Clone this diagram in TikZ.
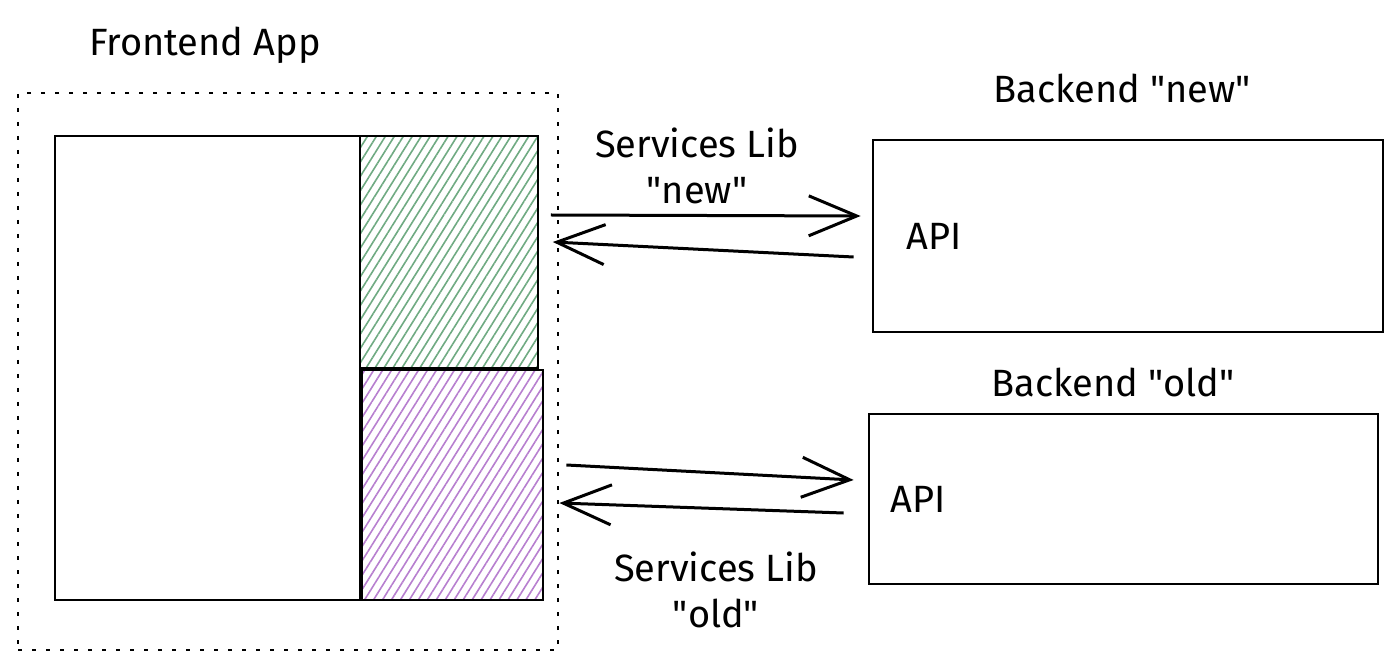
\documentclass[tikz,border=0pt]{standalone}
\usepackage{fontspec}
\setmainfont{Fira Sans}
\usepackage{xcolor}
\usetikzlibrary{arrows.meta,positioning,calc,fit,patterns.meta}
\definecolor{hatchgreen}{HTML}{6FAA82}
\definecolor{hatchpurple}{HTML}{B77FCF}
\newcommand{\qt}[1]{\textquotedbl#1\textquotedbl}
\tikzset{
  box/.style={draw, line width=1.4pt, inner sep=0pt, fill=white},
  frame/.style={draw, line width=1.3pt, dash pattern=on 2pt off 5pt, inner sep=0pt},
  libnew/.style={box, fill=none, pattern={Lines[angle=58,distance=3.8pt,line width=0.8pt]}, pattern color=hatchgreen},
  libold/.style={box, fill=none, pattern={Lines[angle=58,distance=3.8pt,line width=0.8pt]}, pattern color=hatchpurple},
  label/.style={font=\fontsize{19}{23}\selectfont, align=center},
  edge/.style={-{Straight Barb[length=24pt,width=20pt,line width=1.5pt]}, line width=1.5pt}
}
\begin{document}
\begin{tikzpicture}[x=0.5pt, y=-0.5pt]
  \useasboundingbox (0,0) rectangle (1400,667);
  % frontend
  \node[frame, fit={(18,93) (558,650)}] (frame) {};
  \node[box, fit={(55,136) (360,600)}] (app) {};
  \node[libnew, fit={(360,136) (538,368)}] (newlib) {};
  \node[libold, fit={(362,370) (543,600)}] (oldlib) {};
  \node[label] (applbl) at (205,45) {Frontend App};

  % backends
  \node[box, fit={(873,140) (1383,332)}] (newbe) {};
  \node[box, fit={(869,414) (1378,584)}] (oldbe) {};
  \node[label] (newbelbl) at (1122,88) {Backend \qt{new}};
  \node[label] (oldbelbl) at (1113,382) {Backend \qt{old}};
  \node[label, right=14pt of newbe.west] (newapi) {API};
  \node[label, right=8pt of oldbe.west] (oldapi) {API};

  % services libs
  \node[label] (newsvc) at (697,166) {Services Lib\\\qt{new}};
  \node[label] (oldsvc) at (716,590) {Services Lib\\\qt{old}};

  \draw[edge] ($(newlib.east)+(12,-37)$) -- ($(newbe.west)+(-11,-20)$);
  \draw[edge] ($(newbe.west)+(-18,21)$) -- ($(newlib.east)+(14,-10)$);
  \draw[edge] ($(oldlib.east)+(22,-20)$) -- ($(oldbe.west)+(-14,-19)$);
  \draw[edge] ($(oldbe.west)+(-24,14)$) -- ($(oldlib.east)+(15,18)$);
\end{tikzpicture}
\end{document}
